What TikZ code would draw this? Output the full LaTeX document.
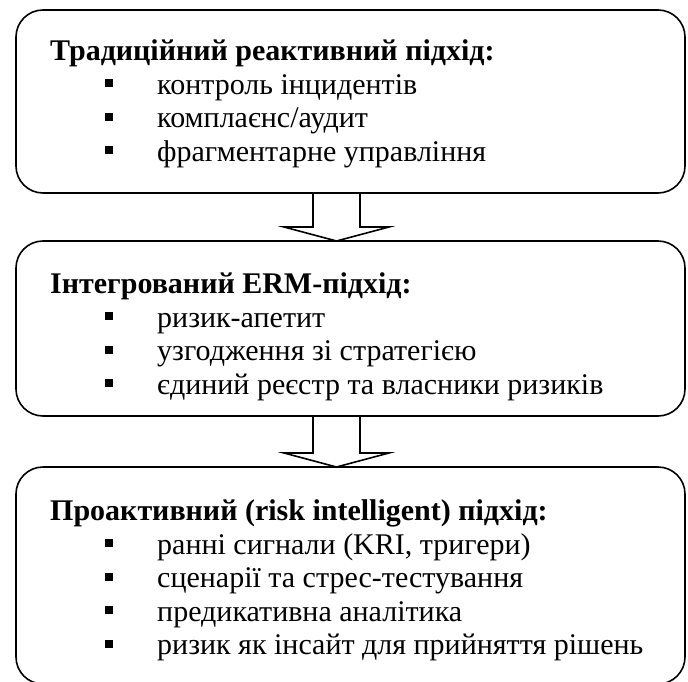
\documentclass[tikz,border=0pt]{standalone}
\usepackage{fontspec}
\setmainfont{Liberation Serif}
\usepackage{tikz}
\usetikzlibrary{positioning,calc}

\newcommand{\itm}[1]{\hspace*{55pt}\rule[7pt]{8pt}{8pt}\hspace*{44pt}#1}

\begin{document}
\begin{tikzpicture}[
  x=1pt, y=1pt,
  box/.style={draw, line width=1.6pt, rounded corners=27pt, minimum width=669pt, inner sep=0pt, outer sep=0pt},
  txt/.style={inner sep=0pt, align=left, font=\fontsize{30}{33.5}\selectfont},
  blk/.style={draw, line width=1.6pt, line join=miter}
]
\useasboundingbox (0,0) rectangle (688,-682);

\node[box, minimum height=183pt, anchor=north west] (trad) at (16,-10) {};
\node[box, minimum height=175pt, below=48pt of trad] (erm) {};
\node[box, minimum height=217pt, below=51pt of erm] (pro) {};

\node[txt, below right=27pt and 34pt of trad.north west] (tradtxt)
  {\strut\textbf{Традиційний реактивний підхід:}\\
   \itm{контроль інцидентів}\\
   \itm{комплаєнс/аудит}\\
   \itm{фрагментарне управління}};
\node[txt, below right=29pt and 34pt of erm.north west] (ermtxt)
  {\strut\textbf{Інтегрований ERM-підхід:}\\
   \itm{ризик-апетит}\\
   \itm{узгодження зі стратегією}\\
   \itm{єдиний реєстр та власники ризиків}};
\node[txt, below right=30pt and 34pt of pro.north west] (protxt)
  {\strut\textbf{Проактивний (risk intelligent) підхід:}\\
   \itm{ранні сигнали (KRI, тригери)}\\
   \itm{сценарії та стрес-тестування}\\
   \itm{предикативна аналітика}\\
   \itm{ризик як інсайт для прийняття рішень}};

% block arrows between the stages
\draw[blk] ($(trad.south)+(-37.5,0)$) -- ($(erm.north)+(-37.5,14)$) -- ++(-29,0)
  -- ($(erm.north)+(-14,0)$) -- ($(erm.north)+(38.5,14)$) -- ++(-29,0) -- ($(trad.south)+(9.5,0)$);
\draw[blk] ($(erm.south)+(-37.5,0)$) -- ($(pro.north)+(-37.5,14)$) -- ++(-29,0)
  -- ($(pro.north)+(-14,0)$) -- ($(pro.north)+(38.5,14)$) -- ++(-29,0) -- ($(erm.south)+(9.5,0)$);
\end{tikzpicture}
\end{document}
